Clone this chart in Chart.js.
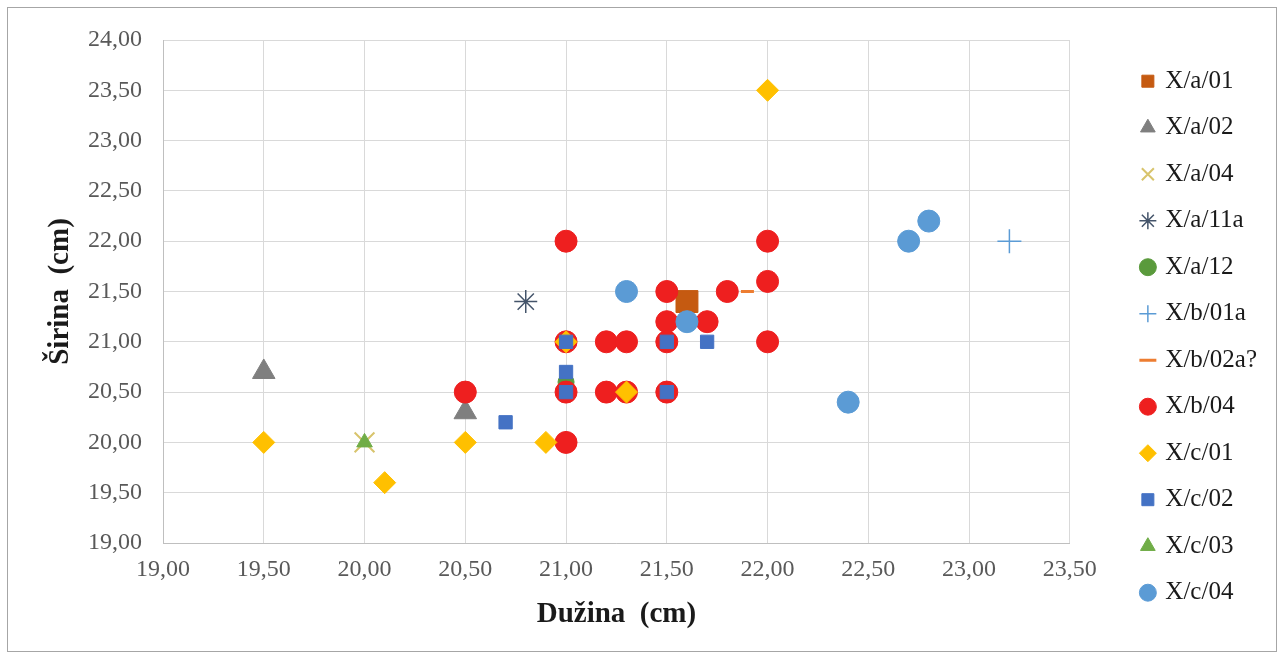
<!DOCTYPE html>
<html>
<head>
<meta charset="utf-8">
<script src="https://cdn.jsdelivr.net/npm/chart.js@4.4.1/dist/chart.umd.min.js"></script>
<style>
  html, body { margin: 0; padding: 0; background: #fff; }
  #frame { position: absolute; left: 7px; top: 7px; width: 1268px; height: 643px; border: 1px solid #a6a6a6; }
  #chart1 { position: absolute; left: 0; top: 0; }
</style>
</head>
<body>
<div id="frame"></div>
<canvas id="chart1" width="1283" height="659"></canvas>
<script>
// series names, in legend order
const seriesNames = ['X/a/01', 'X/a/02', 'X/a/04', 'X/a/11a', 'X/a/12', 'X/b/01a',
  'X/b/02a?', 'X/b/04', 'X/c/01', 'X/c/02', 'X/c/03', 'X/c/04'];

// Dužina (x) and Širina (y) values per series
const a01X = [21.6];
const a01Y = [21.4];
const a02X = [19.5, 20.5];
const a02Y = [20.7, 20.3];
const a04X = [20.0];
const a04Y = [20.0];
const a11aX = [20.8];
const a11aY = [21.4];
const a12X = [21.0];
const a12Y = [20.6];
const b01aX = [23.2];
const b01aY = [22.0];
const b02aX = [21.9];
const b02aY = [21.5];
const b04X = [21.0, 22.0, 21.5, 21.8, 22.0, 21.5, 21.7, 21.0, 21.2, 21.3, 21.5, 22.0, 20.5, 21.0, 21.2, 21.3, 21.5, 21.0];
const b04Y = [22.0, 22.0, 21.5, 21.5, 21.6, 21.2, 21.2, 21.0, 21.0, 21.0, 21.0, 21.0, 20.5, 20.5, 20.5, 20.5, 20.5, 20.0];
const c01X = [22.0, 19.5, 20.1, 20.5, 20.9, 21.0, 21.3];
const c01Y = [23.5, 20.0, 19.6, 20.0, 20.0, 21.0, 20.5];
const c02X = [20.7, 21.0, 21.0, 21.0, 21.5, 21.7, 21.5];
const c02Y = [20.2, 21.0, 20.7, 20.5, 21.0, 21.0, 20.5];
const c03X = [20.0];
const c03Y = [20.0];
const c04X = [21.3, 21.6, 22.4, 22.7, 22.8];
const c04Y = [21.5, 21.2, 20.4, 22.0, 22.2];

// axis ticks
const xTicks = { min: 19, max: 23.5, step: 0.5 };
const yTicks = { min: 19, max: 24, step: 0.5 };

const seriesX = [a01X, a02X, a04X, a11aX, a12X, b01aX, b02aX, b04X, c01X, c02X, c03X, c04X];
const seriesY = [a01Y, a02Y, a04Y, a11aY, a12Y, b01aY, b02aY, b04Y, c01Y, c02Y, c03Y, c04Y];

// marker looks (Excel style markers)
const looks = [
  { style: 'rect', color: '#c55a11', r: 15.5 },
  { style: 'triangle', color: '#7f7f7f', r: 13 },
  { style: 'crossRot', color: '#d8c46c', r: 14, line: 2, open: true },
  { style: 'star', color: '#44546a', r: 11.5, line: 1.5, open: true },
  { style: 'circle', color: '#5a9a3c', r: 8 },
  { style: 'cross', color: '#5b9bd5', r: 12, line: 1.5, open: true },
  { style: 'line', color: '#ed7d31', r: 6.5, line: 3, open: true },
  { style: 'circle', color: '#ee1f1f', r: 11 },
  { style: 'rectRot', color: '#ffc000', r: 11 },
  { style: 'rect', color: '#4472c4', r: 9.4 },
  { style: 'triangle', color: '#70ad47', r: 9 },
  { style: 'circle', color: '#5b9bd5', r: 11 }
];

const fmt = (v) => v.toFixed(2).replace('.', ',');
const serif = '"Liberation Serif", "Times New Roman", serif';

const datasets = seriesNames.map((name, i) => {
  const lk = looks[i];
  return {
    label: name,
    data: seriesX[i].map((x, j) => ({ x: x, y: seriesY[i][j] })),
    pointStyle: lk.style,
    pointRadius: lk.r,
    pointHoverRadius: lk.r,
    backgroundColor: lk.open ? 'rgba(0,0,0,0)' : lk.color,
    borderColor: lk.color,
    borderWidth: lk.line || 1,
    showLine: false,
    order: -i, // later series drawn on top, like Excel
    xAxisID: 'x',
    yAxisID: 'y'
  };
});

const ctx1 = document.querySelector('#chart1');

const chart1 = new Chart(ctx1, {
  type: 'scatter',
  data: { datasets: datasets },
  options: {
    responsive: false,
    animation: false,
    events: [],
    layout: { padding: { top: 40, right: 16, bottom: 0, left: 0 } },
    plugins: {
      tooltip: { enabled: false },
      legend: {
        position: 'right',
        align: 'start',
        title: { display: true, text: '', font: { size: 1 }, padding: { top: 3, bottom: 3 } },
        labels: {
          usePointStyle: true,
          boxWidth: 10,
          boxHeight: 12,
          padding: 21.5,
          color: '#1a1a1a',
          font: { family: serif, size: 25 },
          sort: (a, b) => a.datasetIndex - b.datasetIndex
        }
      }
    },
    scales: {
      x: {
        type: 'linear',
        position: 'bottom',
        min: xTicks.min,
        max: xTicks.max,
        ticks: {
          stepSize: xTicks.step,
          padding: 12,
          maxRotation: 0,
          autoSkip: false,
          color: '#595959',
          font: { family: serif, size: 24 },
          callback: (v) => fmt(v)
        },
        grid: { color: '#d9d9d9', drawTicks: false },
        border: { color: '#bfbfbf' },
        title: {
          display: true,
          text: 'Dužina  (cm)',
          color: '#1a1a1a',
          font: { family: serif, size: 29, weight: 'bold' },
          padding: { top: 0, bottom: 27 }
        },
        afterFit: (s) => { s.height = 116; }
      },
      y: {
        type: 'linear',
        position: 'left',
        min: yTicks.min,
        max: yTicks.max,
        ticks: {
          stepSize: yTicks.step,
          padding: 21,
          autoSkip: false,
          color: '#595959',
          font: { family: serif, size: 24 },
          callback: (v) => fmt(v)
        },
        grid: { color: '#d9d9d9', drawTicks: false },
        border: { color: '#bfbfbf' },
        title: {
          display: true,
          text: 'Širina  (cm)',
          color: '#1a1a1a',
          font: { family: serif, size: 29, weight: 'bold' },
          padding: { top: 43, bottom: 0 }
        },
        afterFit: (s) => { s.width = 163; }
      },
      // empty spacer between plot and legend
      gap: {
        type: 'linear',
        position: 'right',
        display: true,
        grid: { display: false },
        border: { display: false },
        ticks: { display: false },
        afterFit: (s) => { s.width = 51.5; }
      }
    }
  }
});
</script>
</body>
</html>
